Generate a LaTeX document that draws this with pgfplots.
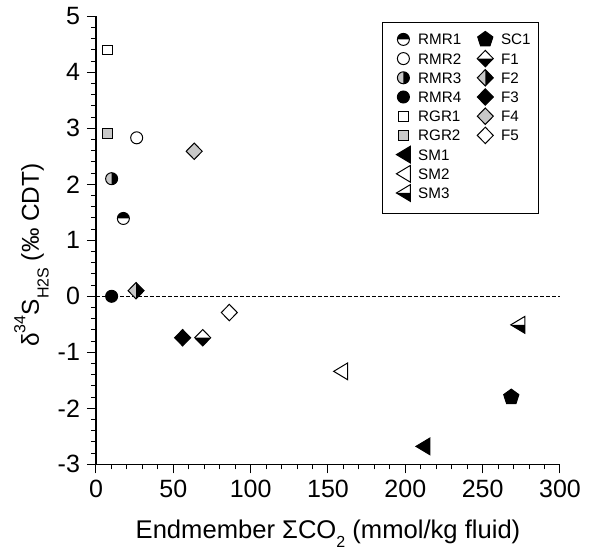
\documentclass[border=0pt]{standalone}
\usepackage{pgfplots}
\pgfplotsset{compat=1.18}
\usepackage{fontspec}
\setmainfont{Liberation Sans}
\definecolor{lg}{RGB}{200,200,200}

% ---------- custom marks ----------
\newcommand{\diapath}{\pgfpathmoveto{\pgfqpoint{0pt}{4.1pt}}\pgfpathlineto{\pgfqpoint{4pt}{0pt}}\pgfpathlineto{\pgfqpoint{0pt}{-4.1pt}}\pgfpathlineto{\pgfqpoint{-4pt}{0pt}}\pgfpathclose}
\newcommand{\tripath}{\pgfpathmoveto{\pgfqpoint{-3.5pt}{0pt}}\pgfpathlineto{\pgfqpoint{3.5pt}{4.2pt}}\pgfpathlineto{\pgfqpoint{3.5pt}{-4.2pt}}\pgfpathclose}
\newcommand{\circpath}{\pgfpathcircle{\pgfpointorigin}{3pt}}

\pgfdeclareplotmark{cTopB}{\pgfsetfillcolor{white}\circpath\pgfusepath{fill}%
 \pgfsetfillcolor{black}\pgfpathmoveto{\pgfqpoint{3pt}{0pt}}\pgfpatharc{0}{180}{3pt}\pgfpathclose\pgfusepath{fill}%
 \circpath\pgfusepath{stroke}}
\pgfdeclareplotmark{cW}{\pgfsetfillcolor{white}\circpath\pgfusepath{fill,stroke}}
\pgfdeclareplotmark{cB}{\pgfsetfillcolor{black}\circpath\pgfusepath{fill,stroke}}
\pgfdeclareplotmark{cGL}{\pgfsetfillcolor{lg}\circpath\pgfusepath{fill}%
 \pgfsetfillcolor{black}\pgfpathmoveto{\pgfqpoint{0pt}{3pt}}\pgfpatharc{90}{-90}{3pt}\pgfpathclose\pgfusepath{fill}%
 \circpath\pgfusepath{stroke}}
\pgfdeclareplotmark{sqW}{\pgfsetfillcolor{white}\pgfpathrectangle{\pgfqpoint{-2.4pt}{-2.4pt}}{\pgfqpoint{4.8pt}{4.8pt}}\pgfusepath{fill,stroke}}
\pgfdeclareplotmark{sqG}{\pgfsetfillcolor{lg}\pgfpathrectangle{\pgfqpoint{-2.4pt}{-2.4pt}}{\pgfqpoint{4.8pt}{4.8pt}}\pgfusepath{fill,stroke}}
\pgfdeclareplotmark{triB}{\pgfsetfillcolor{black}\tripath\pgfusepath{fill,stroke}}
\pgfdeclareplotmark{triW}{\pgfsetfillcolor{white}\tripath\pgfusepath{fill,stroke}}
\pgfdeclareplotmark{triH}{\pgfsetfillcolor{white}\tripath\pgfusepath{fill}%
 \pgfsetfillcolor{black}\pgfpathmoveto{\pgfqpoint{-3.5pt}{0pt}}\pgfpathlineto{\pgfqpoint{3.5pt}{0pt}}\pgfpathlineto{\pgfqpoint{3.5pt}{-4.2pt}}\pgfpathclose\pgfusepath{fill}%
 \tripath\pgfusepath{stroke}}
\pgfdeclareplotmark{pentB}{\pgfsetfillcolor{black}%
 \pgfpathmoveto{\pgfpointpolar{90}{4pt}}\pgfpathlineto{\pgfpointpolar{162}{4pt}}\pgfpathlineto{\pgfpointpolar{234}{4pt}}\pgfpathlineto{\pgfpointpolar{306}{4pt}}\pgfpathlineto{\pgfpointpolar{18}{4pt}}\pgfpathclose\pgfusepath{fill,stroke}}
\pgfdeclareplotmark{dTB}{\pgfsetfillcolor{white}\diapath\pgfusepath{fill}%
 \pgfsetfillcolor{black}\pgfpathmoveto{\pgfqpoint{4pt}{0pt}}\pgfpathlineto{\pgfqpoint{0pt}{-4.1pt}}\pgfpathlineto{\pgfqpoint{-4pt}{0pt}}\pgfpathclose\pgfusepath{fill}%
 \diapath\pgfusepath{stroke}}
\pgfdeclareplotmark{dGL}{\pgfsetfillcolor{lg}\diapath\pgfusepath{fill}%
 \pgfsetfillcolor{black}\pgfpathmoveto{\pgfqpoint{0pt}{4.1pt}}\pgfpathlineto{\pgfqpoint{4pt}{0pt}}\pgfpathlineto{\pgfqpoint{0pt}{-4.1pt}}\pgfpathclose\pgfusepath{fill}%
 \diapath\pgfusepath{stroke}}
\pgfdeclareplotmark{dB}{\pgfsetfillcolor{black}\diapath\pgfusepath{fill,stroke}}
\pgfdeclareplotmark{dG}{\pgfsetfillcolor{lg}\diapath\pgfusepath{fill,stroke}}
\pgfdeclareplotmark{dW}{\pgfsetfillcolor{white}\diapath\pgfusepath{fill,stroke}}

\begin{document}
\begin{tikzpicture}
\begin{axis}[name=ax, scale only axis, width=232pt, height=224pt,
  xmin=0, xmax=300, ymin=-3, ymax=5,
  axis x line*=bottom, axis y line*=left,
  axis line style={line width=0.6pt, black},
  xtick={0,50,100,150,200,250,300}, xticklabels={0,50,100,150,200,250,300},
  ytick={-3,-2,-1,0,1,2,3,4,5}, yticklabels={-3,-2,-1,0,1,2,3,4,5},
  minor x tick num=4, minor y tick num=4,
  tick align=outside,
  major tick length=4.5pt, minor tick length=2.5pt,
  tick style={line width=0.5pt, black},
  tick label style={font=\fontsize{12.5}{14}\selectfont},
  clip=false,
  xlabel={Endmember ΣCO\raisebox{-0.35em}{\fontsize{8}{8}\selectfont 2} (mmol/kg fluid)},
  xlabel style={font=\fontsize{12.8}{14}\selectfont, at={(axis description cs:0.5,0)}, anchor=base, yshift=-37pt},
  ylabel={δ\raisebox{0.55em}{\fontsize{8}{8}\selectfont 34}S\raisebox{-0.4em}{\fontsize{8}{8}\selectfont H2S} (‰ CDT)},
  ylabel style={font=\fontsize{12.2}{14}\selectfont, at={(axis description cs:-0.139,0.467)}, anchor=center},
  legend cell align=left,
  legend image code/.code={\draw[#1] plot coordinates {(0pt,0pt)};},
  legend style={draw=none, fill=none, at={(axis description cs:0,1)}, anchor=north west,
    xshift=149.75pt, yshift=-6.55pt, inner sep=0pt, row sep=0pt, column sep=2.65pt,
    font=\fontsize{7.6}{8}\selectfont,
    nodes={text height=5.5pt, text depth=0pt, inner ysep=2.05pt, inner xsep=1pt, text width=25.65pt, align=left}},
  legend columns=2,
]
\addplot[black, dash pattern=on 2pt off 1pt, line width=0.4pt, forget plot] coordinates {(0,0) (300,0)};
\draw[line width=0.5pt] (axis cs:185.56,4.898) rectangle (axis cs:286.4,1.470);

\addplot[only marks, black, line width=0.5pt, mark=cTopB] coordinates {(17.7,1.39)};
\addlegendentry{RMR1}
\addplot[only marks, black, line width=0.5pt, mark=pentB] coordinates {(268.5,-1.80)};
\addlegendentry{SC1}
\addplot[only marks, black, line width=0.5pt, mark=cW] coordinates {(26.3,2.83)};
\addlegendentry{RMR2}
\addplot[only marks, black, line width=0.5pt, mark=dTB] coordinates {(69,-0.74)};
\addlegendentry{F1}
\addplot[only marks, black, line width=0.5pt, mark=cGL] coordinates {(10.1,2.10)};
\addlegendentry{RMR3}
\addplot[only marks, black, line width=0.5pt, mark=dGL] coordinates {(25.9,0.10)};
\addlegendentry{F2}
\addplot[only marks, black, line width=0.5pt, mark=cB] coordinates {(10.1,0.0)};
\addlegendentry{RMR4}
\addplot[only marks, black, line width=0.5pt, mark=dB] coordinates {(56,-0.74)};
\addlegendentry{F3}
\addplot[only marks, black, line width=0.5pt, mark=sqW] coordinates {(7.6,4.40)};
\addlegendentry{RGR1}
\addplot[only marks, black, line width=0.5pt, mark=dG] coordinates {(63.5,2.59)};
\addlegendentry{F4}
\addplot[only marks, black, line width=0.5pt, mark=sqG] coordinates {(7.6,2.91)};
\addlegendentry{RGR2}
\addplot[only marks, black, line width=0.5pt, mark=dW] coordinates {(86.2,-0.29)};
\addlegendentry{F5}
\addplot[only marks, black, line width=0.5pt, mark=triB] coordinates {(211.4,-2.68)};
\addlegendentry{SM1}
\addlegendimage{empty legend}
\addlegendentry{}
\addplot[only marks, black, line width=0.5pt, mark=triW] coordinates {(158.2,-1.34)};
\addlegendentry{SM2}
\addlegendimage{empty legend}
\addlegendentry{}
\addplot[only marks, black, line width=0.5pt, mark=triH] coordinates {(272.7,-0.51)};
\addlegendentry{SM3}
\end{axis}
\pgfresetboundingbox
\path ([xshift=-48pt,yshift=-43.85pt]ax.south west) rectangle ([xshift=15pt,yshift=8.15pt]ax.north east);
\end{tikzpicture}
\end{document}
